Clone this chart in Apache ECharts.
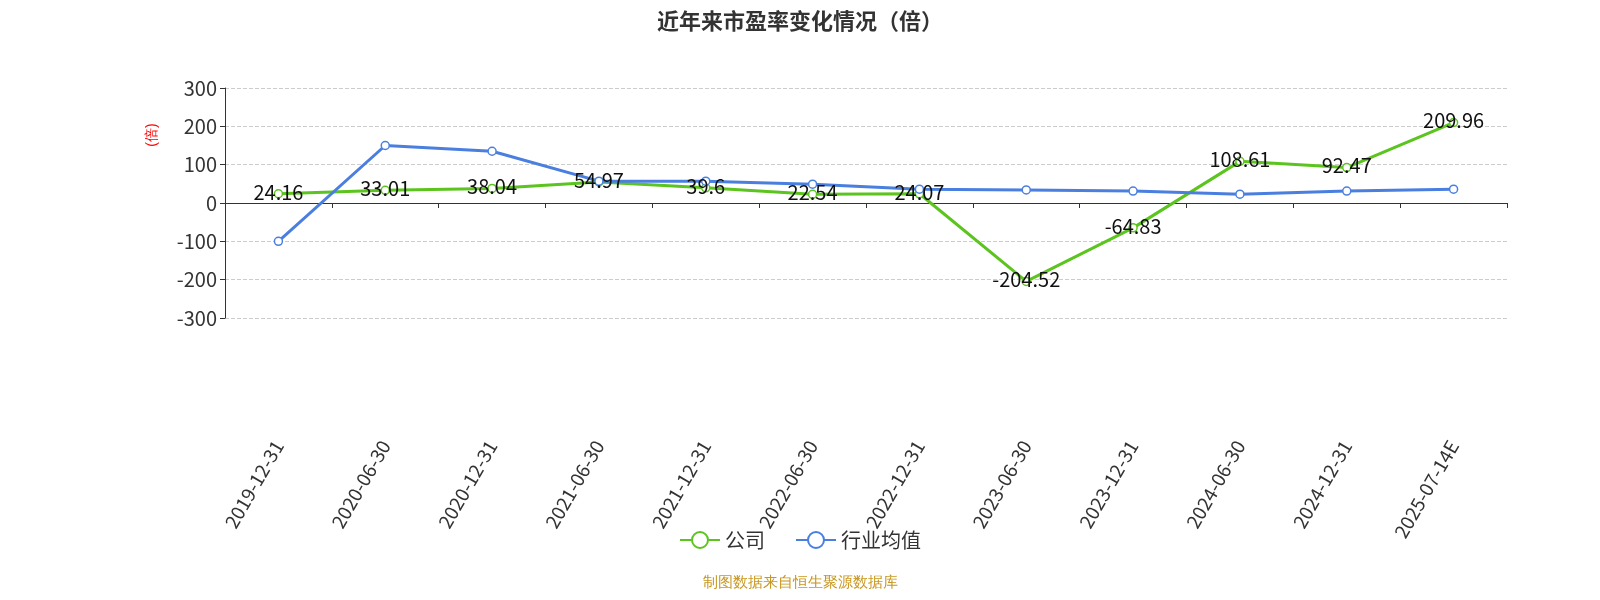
<!DOCTYPE html><html><head><meta charset="utf-8"><script src="https://cdn.jsdelivr.net/npm/echarts@6/dist/echarts.min.js"></script></head><body style="margin:0"><div id="c" style="width:1600px;height:600px"></div><script>
const categories=['2019-12-31','2020-06-30','2020-12-31','2021-06-30','2021-12-31','2022-06-30','2022-12-31','2023-06-30','2023-12-31','2024-06-30','2024-12-31','2025-07-14E'];
const company=[24.16,33.01,38.04,54.97,39.6,22.54,24.07,-204.52,-64.83,108.61,92.47,209.96];
const industry=[-100,150,135,57,57,49,36,34,31,23,31,36];
const ch=echarts.init(document.getElementById('c'));
ch.setOption({
textStyle:{fontFamily:'Noto Sans CJK SC'},
title:{text:'近年来市盈率变化情况（倍）',left:'center',top:5,textStyle:{fontSize:22,fontWeight:'bold',color:'#333'}},
grid:{left:225,right:93,top:88,bottom:282},
legend:{bottom:45,itemWidth:40,itemHeight:20,itemGap:30,textStyle:{fontSize:20,color:'#333'},data:['公司','行业均值']},
graphic:[{type:'text',left:'center',bottom:10,style:{text:'制图数据来自恒生聚源数据库',fill:'#c8961e',fontSize:15}},
{type:'text',x:152,y:135,rotation:Math.PI/2,style:{text:'(倍)',fill:'red',fontSize:14,align:'center',verticalAlign:'middle'}}],
xAxis:{type:'category',data:categories,boundaryGap:true,axisLine:{onZero:true,lineStyle:{color:'#333'}},axisTick:{show:true,lineStyle:{color:'#333'}},axisLabel:{rotate:60,fontSize:19,color:'#333',interval:0,margin:124}},
yAxis:{type:'value',min:-300,max:300,interval:100,axisLine:{show:true,lineStyle:{color:'#333'}},axisTick:{show:true},axisLabel:{fontSize:20,color:'#333'},splitLine:{lineStyle:{type:'dashed',color:'#ccc'}}},
series:[
{name:'公司',type:'line',data:company,symbol:'circle',symbolSize:8,itemStyle:{color:'#fff',borderColor:'#5cc41e',borderWidth:1.5},lineStyle:{width:3,color:'#5cc41e'},label:{show:true,fontSize:20,color:'#111',position:'top',offset:[0,18]}},
{name:'行业均值',type:'line',data:industry,symbol:'circle',symbolSize:8,itemStyle:{color:'#fff',borderColor:'#4a7fe0',borderWidth:1.5},lineStyle:{width:3,color:'#4a7fe0'}}
]});
</script></body></html>
